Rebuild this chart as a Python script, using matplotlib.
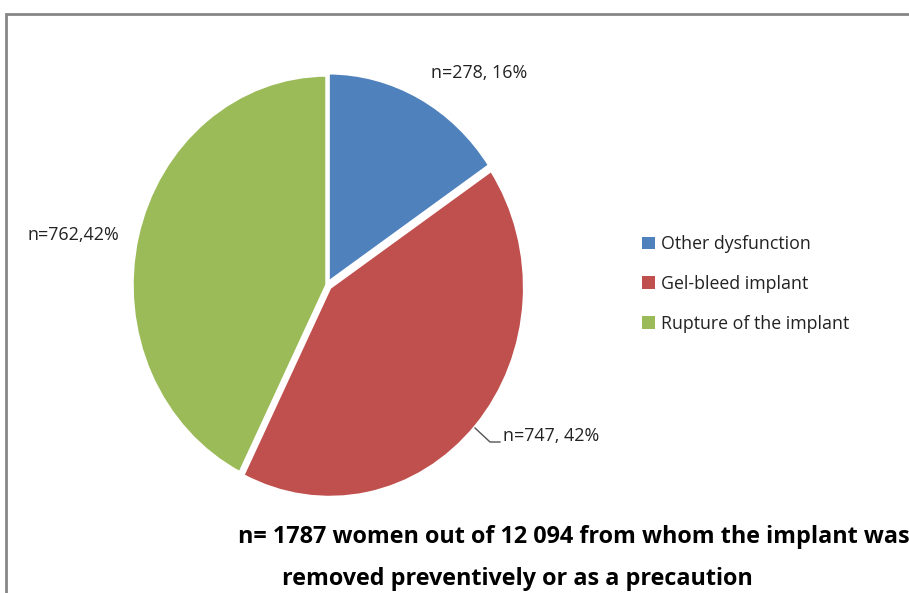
import matplotlib.pyplot as plt
from matplotlib.patches import Rectangle

categories = ["Other dysfunction", "Gel-bleed implant", "Rupture of the implant"]
counts = [278, 747, 762]
data_labels = ["n=278, 16%", "n=747, 42%", "n=762,42%"]
colors = ["#4F81BD", "#C0504D", "#9BBB59"]
note_line1 = "n= 1787 women out of 12 094 from whom the implant was"
note_line2 = "removed preventively or as a precaution"

W, H = 909, 593
fig = plt.figure(figsize=(W / 100, H / 100), dpi=100)

# pie centre and radii in pixels (slightly taller than wide, like the source)
cx, cy, rx, ry = 327, 285, 195, 210
ax = fig.add_axes([0, 0, 1, 1])
wedges, _ = ax.pie(counts, colors=colors, startangle=90, counterclock=False,
                   explode=[0.012, 0.018, 0.0],
                   wedgeprops=dict(edgecolor="white", linewidth=2.5))
ax.set_aspect("auto")
ax.set_xlim((0 - cx) / rx, (W - cx) / rx)
ax.set_ylim((cy - H) / ry, (cy - 0) / ry)
ax.axis("off")

def px(x, y):
    # pixel position -> pie data coordinates
    return (x - cx) / rx, (cy - y) / ry

lab_font = dict(family=["Open Sans", "DejaVu Sans"], fontsize=12.9, color="#222222")
ax.text(*px(431, 73), data_labels[0], ha="left", va="center", **lab_font)
ax.text(*px(503, 436), data_labels[1], ha="left", va="center", **lab_font)
ax.text(*px(28, 235), data_labels[2], ha="left", va="center", **lab_font)

# leader line for the red slice label
lx, ly = zip(px(475, 428), px(490, 442), px(500, 442))
ax.plot(lx, ly, color="#555555", lw=1)

leg = fig.legend(wedges, categories, loc="center left",
                 bbox_to_anchor=(642 / W, 1 - 284 / H), frameon=False,
                 prop=dict(family=["Open Sans", "DejaVu Sans"], size=12.8),
                 handlelength=0.72, handleheight=0.72, handletextpad=0.35,
                 labelspacing=1.22, borderpad=0, borderaxespad=0)
for t in leg.get_texts():
    t.set_color("#222222")
for h in leg.legend_handles:
    h.set_edgecolor("none")

note_font = dict(family=["Open Sans", "DejaVu Sans"], fontsize=16.8, fontweight="bold", color="black")
fig.text(238 / W, 1 - 537 / H, note_line1, ha="left", va="center", **note_font)
fig.text(282 / W, 1 - 579 / H, note_line2, ha="left", va="center", **note_font)

# outer chart border, cut off on the right and bottom
fig.patches.append(Rectangle((6 / W, -0.05), 1.05, 1 - 14 / H + 0.05,
                             transform=fig.transFigure, fill=False,
                             edgecolor="#868686", linewidth=2))

fig.savefig("out.png", dpi=100)
